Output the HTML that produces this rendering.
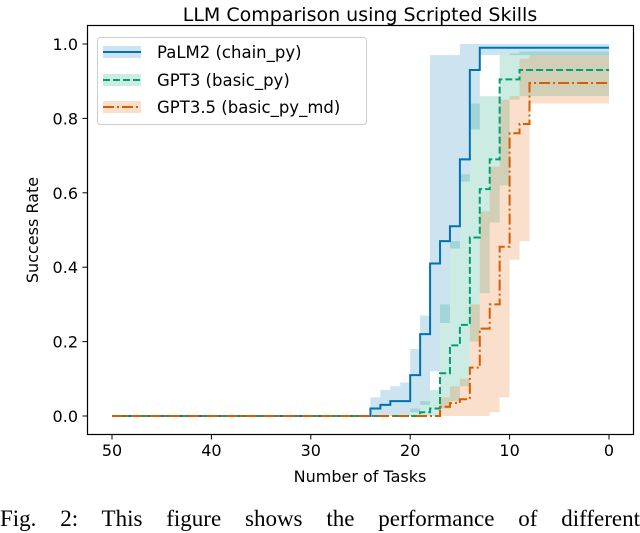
<!DOCTYPE html>
<html><head><meta charset="utf-8"><style>
body{margin:0;background:#fff;width:640px;height:516px;overflow:hidden;position:relative}
svg{display:block}
text{font-family:"DejaVu Sans","Liberation Sans",sans-serif;fill:#000}
#cap{position:absolute;left:0;top:505px;width:640px;font-family:"Liberation Serif",serif;font-size:23px;line-height:28px;text-align:justify;text-align-last:justify;white-space:nowrap;color:#000}
</style></head><body>
<svg id="chart" width="640" height="516" viewBox="0 0 640 516" xmlns="http://www.w3.org/2000/svg">
<text x="360" y="21" font-size="19" text-anchor="middle">LLM Comparison using Scripted Skills</text>
<g id="bands"></g><g id="lines"></g>
<rect x="87.5" y="25.5" width="546" height="409" fill="none" stroke="#000" stroke-width="1.2"/>
<g id="xticks"></g><g id="yticks"></g>
<text x="360" y="482" font-size="16" text-anchor="middle">Number of Tasks</text>
<text transform="translate(38,230) rotate(-90)" font-size="16" text-anchor="middle">Success Rate</text>
<g>
<rect x="97.5" y="37.5" width="269" height="87" rx="3" fill="#fff" fill-opacity="0.85" stroke="#ccc"/>
<rect x="103" y="46" width="38" height="12" fill="#0072B2" fill-opacity="0.2"/>
<line x1="103" y1="52" x2="141" y2="52" stroke="#0072B2" stroke-width="2"/>
<text x="157" y="58" font-size="16.5">PaLM2 (chain_py)</text>
<rect x="103" y="74" width="38" height="12" fill="#009E73" fill-opacity="0.2"/>
<line x1="103" y1="80" x2="141" y2="80" stroke="#009E73" stroke-width="2" stroke-dasharray="7,3"/>
<text x="157" y="86" font-size="16.5">GPT3 (basic_py)</text>
<rect x="103" y="101" width="38" height="12" fill="#E66100" fill-opacity="0.2"/>
<line x1="103" y1="107" x2="141" y2="107" stroke="#D55E00" stroke-width="2" stroke-dasharray="11,3,2,3"/>
<text x="157" y="113" font-size="16.5">GPT3.5 (basic_py_md)</text>
</g>
</svg>
<div id="cap">Fig. 2: This figure shows the performance of different</div>
<script>
// tasks from 24 down to 0 (values for tasks >= 25 are 0)
const tasks=[24,23,22,21,20,19,18,17,16,15,14,13,12,11,10,9,8,7,6,5,4,3,2,1,0];
const palmMean=[0.02,0.03,0.04,0.04,0.11,0.22,0.41,0.47,0.51,0.69,0.93,0.99,0.99,0.99,0.99,0.99,0.99,0.99,0.99,0.99,0.99,0.99,0.99,0.99,0.99];
const palmLow=[0,0,0,0,0.01,0.03,0.12,0.25,0.45,0.63,0.77,0.97,0.97,0.97,0.97,0.97,0.97,0.97,0.97,0.97,0.97,0.97,0.97,0.97,0.97];
const palmHigh=[0.05,0.07,0.08,0.09,0.18,0.27,0.97,0.97,0.97,1,1,1,1,1,1,1,1,1,1,1,1,1,1,1,1];
const gptMean=[0,0,0,0,0,0.01,0.02,0.115,0.19,0.245,0.48,0.61,0.69,0.905,0.905,0.93,0.93,0.93,0.93,0.93,0.93,0.93,0.93,0.93,0.93];
const gptLow=[0,0,0,0,0,0,0,0.02,0.04,0.08,0.2,0.33,0.52,0.62,0.85,0.86,0.86,0.86,0.86,0.86,0.86,0.86,0.86,0.86,0.86];
const gptHigh=[0,0,0,0,0.02,0.04,0.07,0.3,0.47,0.65,0.84,0.86,0.86,0.97,0.975,0.98,0.98,0.98,0.98,0.98,0.98,0.98,0.98,0.98,0.98];
const gpt35Mean=[0,0,0,0,0,0,0,0.025,0.035,0.045,0.13,0.235,0.30,0.455,0.76,0.785,0.895,0.895,0.895,0.895,0.895,0.895,0.895,0.895,0.895];
const gpt35Low=[0,0,0,0,0,0,0,0,0,0,0,0,0.01,0.05,0.42,0.47,0.84,0.84,0.84,0.84,0.84,0.84,0.84,0.84,0.84];
const gpt35High=[0,0,0,0,0,0,0,0.05,0.08,0.1,0.3,0.55,0.67,0.85,0.86,0.96,0.97,0.97,0.97,0.97,0.97,0.97,0.97,0.97,0.97];
const xTicks=[50,40,30,20,10,0];
const yTicks=[0,0.2,0.4,0.6,0.8,1.0];
const NS='http://www.w3.org/2000/svg';
const x=t=>112+(50-t)*(609-112)/50;
const y=v=>416-v*372;
function stepPts(vals){
  const pts=[[x(50),y(0)],[x(tasks[0]),y(0)]];
  for(let i=0;i<tasks.length;i++){
    pts.push([x(tasks[i]),y(vals[i])]);
    const nt=i+1<tasks.length?tasks[i+1]:tasks[i];
    pts.push([x(nt),y(vals[i])]);
  }
  return pts;
}
function mk(tag,parent){const e=document.createElementNS(NS,tag);document.getElementById(parent).appendChild(e);return e;}
function band(lo,hi,color,name){
  const up=stepPts(hi),dn=stepPts(lo).reverse();
  const p=mk('path','bands');
  
  
  p.setAttribute('d','M'+up.concat(dn).map(q=>q.join(',')).join('L')+'Z');
  p.setAttribute('fill',color);p.setAttribute('fill-opacity','0.2');
}
function line(vals,color,dash,name){
  const p=mk('path','lines');
  
  
  p.setAttribute('d','M'+stepPts(vals).map(q=>q.join(',')).join('L'));
  p.setAttribute('fill','none');p.setAttribute('stroke',color);p.setAttribute('stroke-width','2');
  if(dash)p.setAttribute('stroke-dasharray',dash);
}
band(palmLow,palmHigh,'#0072B2','palm2-band');
band(gptLow,gptHigh,'#009E73','gpt3-band');
band(gpt35Low,gpt35High,'#E66100','gpt35-band');
line(palmMean,'#0072B2',null,'palm2-line');
line(gptMean,'#009E73','7,3','gpt3-line');
line(gpt35Mean,'#D55E00','11,3,2,3','gpt35-line');
xTicks.forEach(t=>{
  const l=mk('line','xticks');
  
  
  l.setAttribute('x1',x(t));l.setAttribute('x2',x(t));l.setAttribute('y1',434.5);l.setAttribute('y2',439.5);l.setAttribute('stroke','#000');
  const tx=mk('text','xticks');
  
  
  tx.setAttribute('x',x(t));tx.setAttribute('y',456);tx.setAttribute('font-size','16');tx.setAttribute('text-anchor','middle');tx.textContent=t;
});
yTicks.forEach(v=>{
  const l=mk('line','yticks');
  
  
  l.setAttribute('x1',82.5);l.setAttribute('x2',87.5);l.setAttribute('y1',y(v));l.setAttribute('y2',y(v));l.setAttribute('stroke','#000');
  const tx=mk('text','yticks');
  
  
  tx.setAttribute('x',78);tx.setAttribute('y',y(v)+6);tx.setAttribute('font-size','16');tx.setAttribute('text-anchor','end');tx.textContent=v.toFixed(1);
});
</script>
</body></html>
